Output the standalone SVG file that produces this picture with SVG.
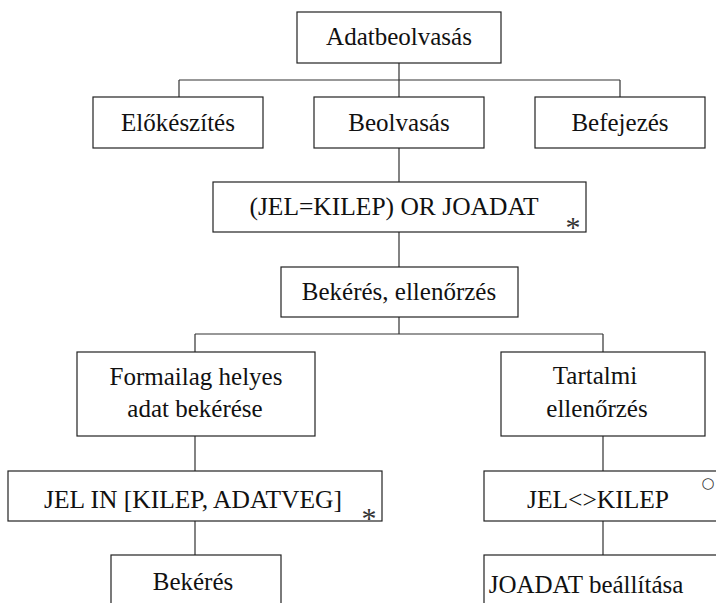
<svg xmlns="http://www.w3.org/2000/svg" width="716" height="603" viewBox="0 0 716 603">
<style>
.box{fill:#fff;stroke:#222;stroke-width:1.2}
.lbl{font-family:"Liberation Serif","Times New Roman",serif;font-size:25px;fill:#111;text-anchor:middle}
.cap{font-size:25.5px}
.mark{font-family:"Liberation Serif","Times New Roman",serif;font-size:30px;fill:#333;text-anchor:middle}
.ring{font-family:"DejaVu Sans",sans-serif;font-size:15px;fill:#333;text-anchor:middle}
.conn{stroke:#333;stroke-width:1.2;fill:none}
</style>
<rect width="716" height="603" fill="#fff"/>
<g id="connectors">
<path class="conn" d="M399 63V97M179 80H620M179 80V97M620 80V97"/>
<path class="conn" d="M399 148V182M399 232V267M399 317V334M195 334H603M195 334V352M603 334V352"/>
<path class="conn" d="M195 436V471M195 521V555M603 436V471M603 521V555"/>
</g>
<g id="n-adatbeolvasas"><rect class="box" x="297" y="12" width="204" height="51"/><text class="lbl" x="399" y="45">Adatbeolvasás</text></g>
<g id="n-elokeszites"><rect class="box" x="93" y="97" width="170" height="51"/><text class="lbl" x="178" y="131">Előkészítés</text></g>
<g id="n-beolvasas"><rect class="box" x="314" y="97" width="170" height="51"/><text class="lbl" x="399" y="131">Beolvasás</text></g>
<g id="n-befejezes"><rect class="box" x="535" y="97" width="170" height="51"/><text class="lbl" x="620" y="131">Befejezés</text></g>
<g id="n-ciklus1"><rect class="box" x="213" y="182" width="373" height="50"/><text class="lbl cap" x="394" y="215">(JEL=KILEP) OR JOADAT</text><text class="mark" x="573" y="237">*</text></g>
<g id="n-bekeres-ellenorzes"><rect class="box" x="281" y="267" width="237" height="50"/><text class="lbl" x="399" y="300">Bekérés, ellenőrzés</text></g>
<g id="n-formailag"><rect class="box" x="77" y="352" width="238" height="84"/><text class="lbl" x="196" y="385">Formailag helyes</text><text class="lbl" x="195" y="417">adat bekérése</text></g>
<g id="n-tartalmi"><rect class="box" x="501" y="352" width="204" height="84"/><text class="lbl" x="595" y="384">Tartalmi</text><text class="lbl" x="597" y="417">ellenőrzés</text></g>
<g id="n-ciklus2"><rect class="box" x="8" y="471" width="374" height="50"/><text class="lbl cap" x="193" y="508">JEL IN [KILEP, ADATVEG]</text><text class="mark" x="369" y="528">*</text></g>
<g id="n-szelekcio"><rect class="box" x="484" y="471" width="238" height="50"/><text class="lbl cap" x="598" y="508">JEL&lt;&gt;KILEP</text><text class="ring" x="708" y="488">○</text></g>
<g id="n-bekeres"><rect class="box" x="111" y="555" width="170" height="60"/><text class="lbl" x="193" y="590">Bekérés</text></g>
<g id="n-joadat"><rect class="box" x="484" y="555" width="238" height="60"/><text class="lbl" x="586" y="593">JOADAT beállítása</text></g>
</svg>
